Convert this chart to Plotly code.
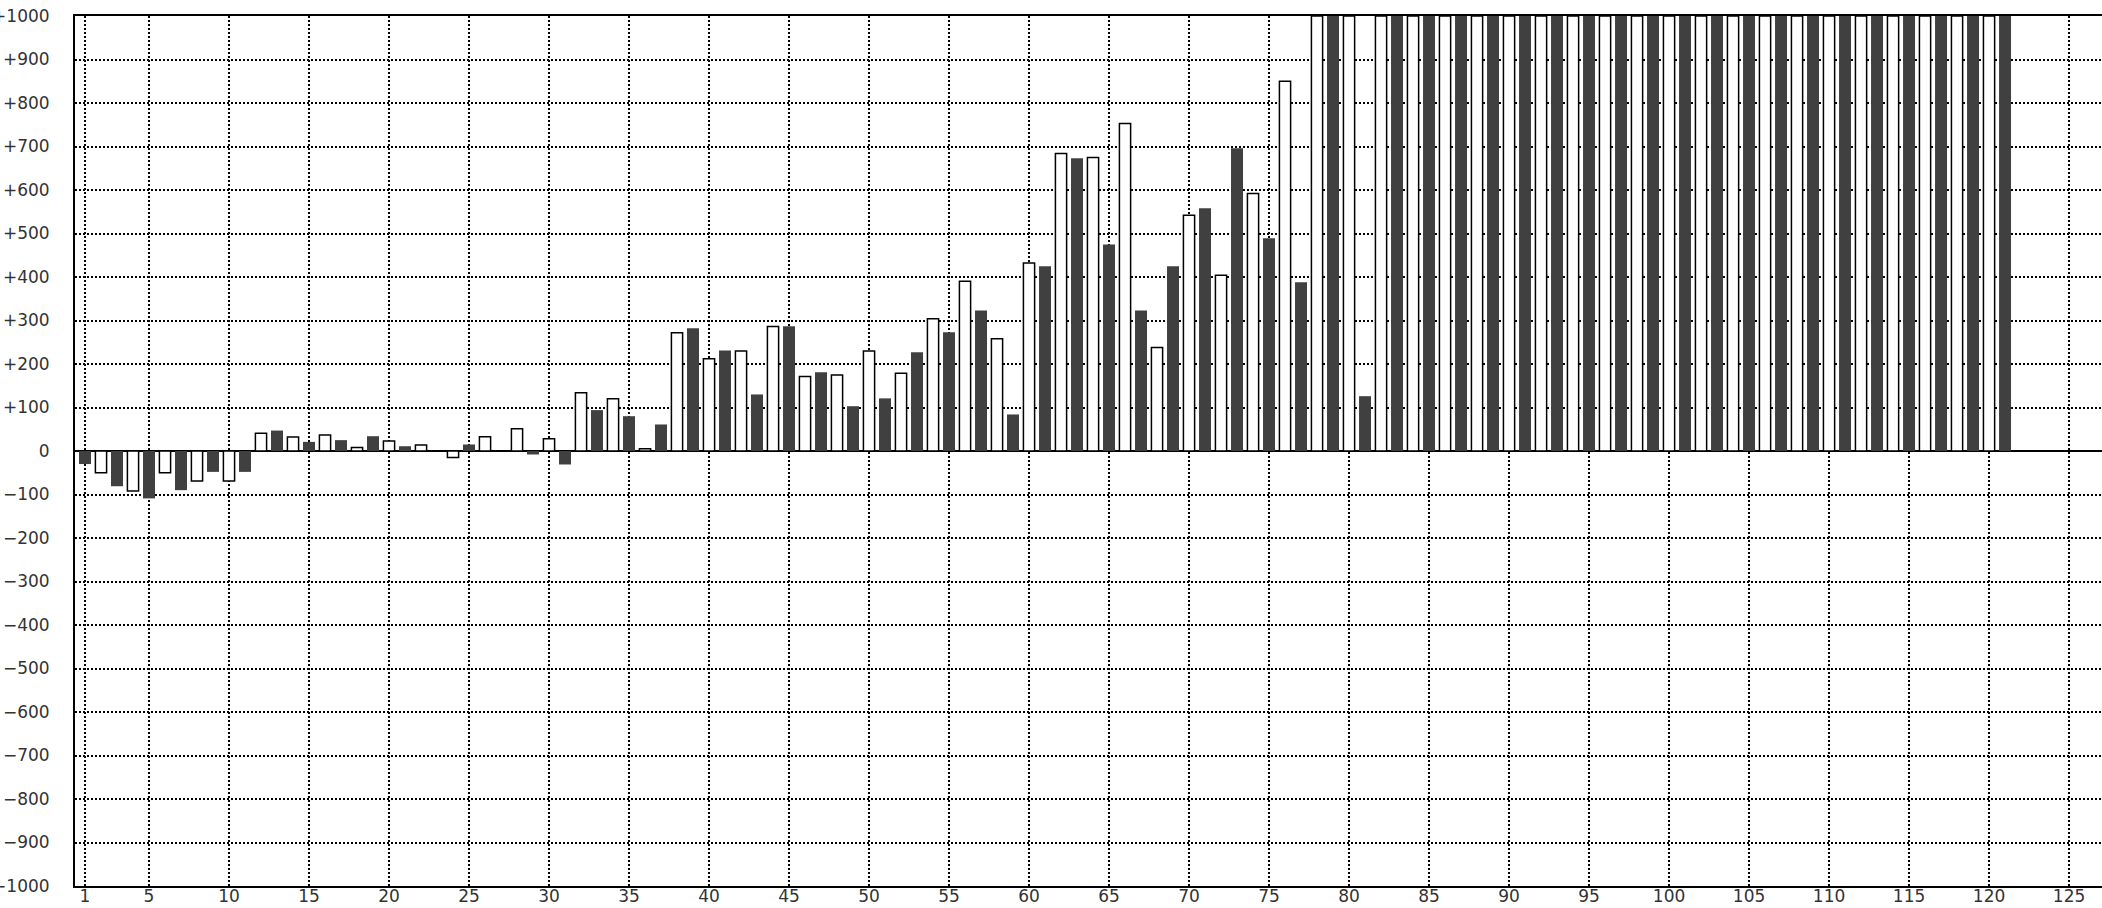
import plotly.graph_objects as go

# Dark bars at odd positions, white (outlined) bars at even positions
dark_x = list(range(1, 122, 2))
dark_vals = [-30, -81, -109, -90, -48, -48, 47, 21, 25, 34,
             11, 0, 15, 0, -8, -31, 94, 80, 61, 282,
             231, 130, 287, 181, 103, 121, 227, 273, 323, 84,
             425, 673, 475, 323, 425, 558, 696, 489, 388, 1000,
             126] + [1000] * 20

white_x = list(range(2, 121, 2))
white_vals = [-50, -92, -50, -69, -69, 41, 32, 37, 8, 23,
              14, -15, 33, 51, 28, 134, 120, 5, 272, 212,
              230, 286, 171, 175, 230, 179, 304, 390, 258, 432,
              684, 675, 753, 238, 542, 404, 592, 850] + [1000] * 22

x_tickvals = [1] + list(range(5, 126, 5))
x_ticktext = [str(v) for v in x_tickvals]

y_tickvals = list(range(-1000, 1001, 100))
y_ticktext = [("+" + str(v)) if v > 0 else ("0" if v == 0 else "\u2212" + str(-v)) for v in y_tickvals]

fig = go.Figure()
fig.add_trace(go.Bar(
    x=white_x, y=white_vals, width=0.7,
    marker=dict(color="white", line=dict(color="black", width=1.5)),
    showlegend=False,
))
fig.add_trace(go.Bar(
    x=dark_x, y=dark_vals, width=0.75,
    marker=dict(color="#404040", line=dict(width=0)),
    showlegend=False,
))

font = dict(family="DejaVu Sans", size=17, color="#333333")

fig.update_layout(
    template="none",
    width=2102, height=908,
    margin=dict(l=75, r=0, t=16, b=22, pad=0, autoexpand=False),
    paper_bgcolor="white", plot_bgcolor="white",
    barmode="overlay",
    font=font,
    xaxis=dict(
        range=[0.375, 127.06], automargin=False,
        tickvals=x_tickvals, ticktext=x_ticktext,
        showgrid=True, gridcolor="black", gridwidth=1.5, griddash="2px,2px",
        showline=True, linecolor="black", linewidth=2, mirror=True,
        ticks="", zeroline=False, tickfont=font,
        ticklabelstandoff=-6,
    ),
    yaxis=dict(
        range=[-1000, 1000], automargin=False,
        tickvals=y_tickvals, ticktext=y_ticktext,
        showgrid=True, gridcolor="black", gridwidth=1.5, griddash="2px,2px",
        showline=True, linecolor="black", linewidth=2, mirror=False,
        zeroline=True, zerolinecolor="black", zerolinewidth=1.8,
        ticks="", tickfont=font,
        ticklabelstandoff=20,
    ),
)

fig.write_html(
    "out.html",
    config={"displayModeBar": False},
    post_script="document.body.style.margin='0';document.body.style.overflow='hidden';",
)
